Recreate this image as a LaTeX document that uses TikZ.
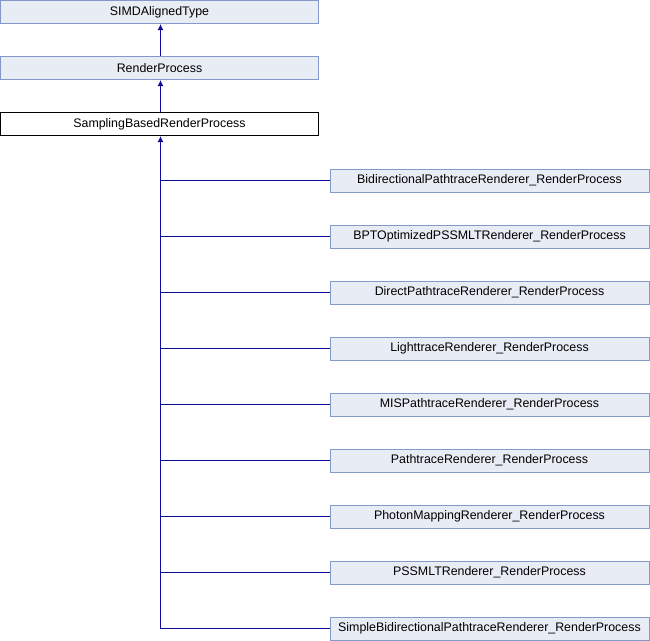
\documentclass[tikz,border=0pt]{standalone}
\usepackage{fontspec}
\setmainfont{Liberation Sans}
\usetikzlibrary{arrows.meta}
\definecolor{boxfill}{HTML}{E8ECF5}
\definecolor{boxline}{HTML}{8499C8}
\definecolor{edgecol}{HTML}{0C0C96}
\begin{document}
\begin{tikzpicture}[x=1pt,y=-1pt,
  cls/.style={draw=boxline,fill=boxfill,line width=1pt,minimum height=23pt,inner sep=0pt,font=\fontsize{12.4}{14}\selectfont},
  base/.style={cls,minimum width=318pt},
  kid/.style={cls,minimum width=319pt},
  cur/.style={cls,draw=black,fill=white},
  inh/.style={draw=edgecol,line width=1.2pt,-{Latex[length=6pt,width=6pt]}}]
\useasboundingbox (0,0) rectangle (650,640);
\node[base] (simd) at (159.5,12) {SIMDAlignedType};
\node[base] (rp) at (159.5,68) {RenderProcess};
\node[base,cur] (sbrp) at (159.5,124) {SamplingBasedRenderProcess};
\node[kid] (k1) at (489.5,180.5) {BidirectionalPathtraceRenderer\_RenderProcess};
\node[kid] (k2) at (489.5,236.5) {BPTOptimizedPSSMLTRenderer\_RenderProcess};
\node[kid] (k3) at (489.5,292.5) {DirectPathtraceRenderer\_RenderProcess};
\node[kid] (k4) at (489.5,348.5) {LighttraceRenderer\_RenderProcess};
\node[kid] (k5) at (489.5,404.5) {MISPathtraceRenderer\_RenderProcess};
\node[kid] (k6) at (489.5,460.5) {PathtraceRenderer\_RenderProcess};
\node[kid] (k7) at (489.5,516.5) {PhotonMappingRenderer\_RenderProcess};
\node[kid] (k8) at (489.5,572.5) {PSSMLTRenderer\_RenderProcess};
\node[kid] (k9) at (489.5,628.5) {SimpleBidirectionalPathtraceRenderer\_RenderProcess};
\coordinate (trunk) at (160.5,628.5);
\draw[inh] (rp.north -| trunk) -- (simd.south -| trunk);
\draw[inh] (sbrp.north -| trunk) -- (rp.south -| trunk);
\draw[inh] (k9.west) -- (trunk) -- (sbrp.south -| trunk);
\foreach \k in {k1,k2,k3,k4,k5,k6,k7,k8}
  \draw[draw=edgecol,line width=1.2pt] (\k.west) -- (trunk |- \k.west);
\end{tikzpicture}
\end{document}
